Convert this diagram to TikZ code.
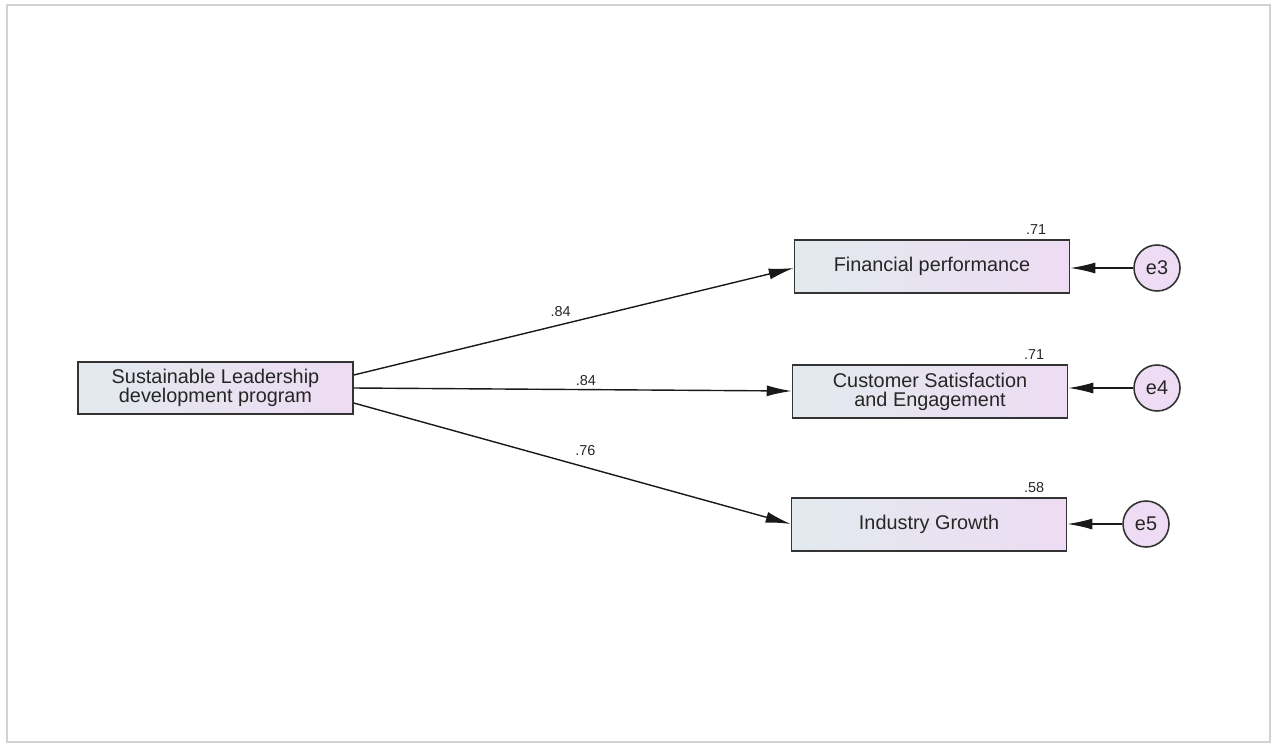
\documentclass[tikz,border=0pt]{standalone}
\usepackage{fontspec}
\setmainfont{Liberation Sans}
\usepackage{tikz}
\usetikzlibrary{arrows.meta,positioning}
\usepackage{xcolor}
\definecolor{boxleft}{RGB}{226,234,238}
\definecolor{boxright}{RGB}{237,220,243}

\begin{document}
\begin{tikzpicture}[
  x=0.02cm, y=-0.02cm,
  var/.style={draw=black!80,line width=0.9pt,rectangle,minimum width=5.5cm,minimum height=1.05cm,
              left color=boxleft,right color=boxright,align=center,
              font=\fontsize{11.3}{10.8}\selectfont,text=black!85},
  err/.style={draw=black!80,line width=0.9pt,circle,minimum size=0.92cm,inner sep=0pt,
              fill=boxright,font=\fontsize{11.3}{13}\selectfont,text=black!85},
  arr/.style={-{Latex[length=0.5cm,width=0.22cm]},line width=0.8pt,black!90},
  coef/.style={font=\fontsize{8.2}{10}\selectfont,text=black!85,inner sep=1pt}
]
% frame
\useasboundingbox (0,0) rectangle (1273,744);
\draw[gray!35,line width=1.6pt] (7,5) rectangle (1270,742);

% exogenous
\node[var] (slp) at (215.5,388) {Sustainable Leadership\\development program};

% endogenous
\node[var] (fin) at (932,266.5) {Financial performance};
\node[var] (csat) at (930,391.5) {Customer Satisfaction\\and Engagement};
\node[var] (ind) at (929,524.5) {Industry Growth};

% errors
\node[err] (e3) at (1157,268) {e3};
\node[err] (e4) at (1157,388) {e4};
\node[err] (e5) at (1146,524) {e5};

% squared multiple correlations
\node[coef] (r3) at (1036,230) {.71};
\node[coef] (r4) at (1034,355) {.71};
\node[coef] (r5) at (1034,488) {.58};

% paths
\draw[arr] (slp.east |- 0,375) -- (fin.west |- 0,268)
  node[coef,pos=0.47,above=3pt] (p3) {.84};
\draw[arr] (slp.east |- 0,388) -- (csat.west |- 0,391)
  node[coef,pos=0.53,above=1pt] (p4) {.84};
\draw[arr] (slp.east |- 0,403) -- (ind.west |- 0,524)
  node[coef,pos=0.53,above=5pt] (p5) {.76};

\draw[arr] (e3) -- (fin.east |- e3);
\draw[arr] (e4) -- (csat.east |- e4);
\draw[arr] (e5) -- (ind.east |- e5);

\end{tikzpicture}
\end{document}
